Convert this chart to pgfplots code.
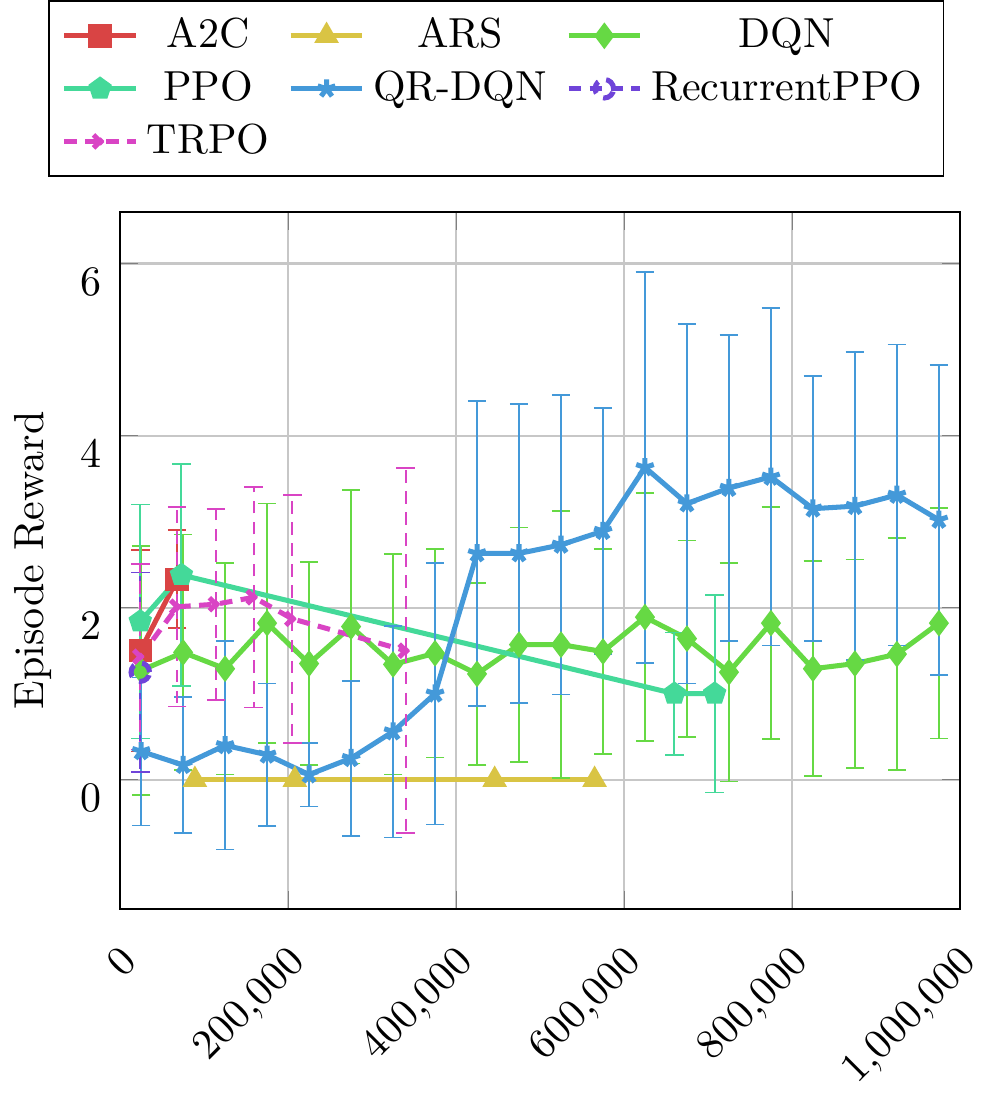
\documentclass[border=0pt]{standalone}
\usepackage{pgfplots}
\pgfplotsset{compat=1.18}
\definecolor{cA2C}{RGB}{217,68,68}
\definecolor{cARS}{RGB}{217,196,68}
\definecolor{cDQN}{RGB}{102,217,68}
\definecolor{cPPO}{RGB}{68,217,153}
\definecolor{cQR}{RGB}{68,153,217}
\definecolor{cRPPO}{RGB}{111,68,217}
\definecolor{cTRPO}{RGB}{217,68,196}
\begin{document}
\begin{tikzpicture}
\begin{axis}[
  scale only axis, width=200pt, height=166pt,
  xmin=0, xmax=1000000, ymin=-1.5, ymax=6.6,
  xtick={0,200000,400000,600000,800000,1000000},
  ytick={0,2,4,6},
  scaled x ticks=false,
  x tick label style={/pgf/number format/fixed, /pgf/number format/1000 sep={\mathord{,}},
    xshift=-0.3pt, yshift=-3.6pt, rotate=45, anchor=north east},
  yticklabel style={yshift=-4.3pt, xshift=-1pt},
  ylabel={Episode Reward},
  grid=major, grid style={black!22, line width=0.5pt},
  legend columns=3, legend cell align=center,
  legend style={at={(0.448,1.05)}, anchor=south, draw=black,
    /tikz/every even column/.append style={column sep=2.5pt}},
  every axis plot/.append style={line width=1.2pt, mark size=2.2pt},
]
\addplot[color=cA2C, mark=square*, error bars/.cd, y dir=both, y explicit, error bar style={line width=0.5pt}]
coordinates {(24000,1.50) +- (0,1.17) (68000,2.33) +- (0,0.57)};
\addlegendentry{A2C}
\addplot[color=cARS, mark=triangle*]
coordinates {(89000,0) (208000,0) (446000,0) (565000,0)};
\addlegendentry{ARS}
\addplot[color=cDQN, mark=diamond*, error bars/.cd, y dir=both, y explicit, error bar style={line width=0.5pt}]
coordinates {
(25000,1.27) +- (0,1.45)
(75000,1.48) +- (0,1.37)
(125000,1.29) +- (0,1.23)
(175000,1.82) +- (0,1.39)
(225000,1.35) +- (0,1.18)
(275000,1.78) +- (0,1.59)
(325000,1.34) +- (0,1.28)
(375000,1.47) +- (0,1.21)
(425000,1.23) +- (0,1.06)
(475000,1.57) +- (0,1.36)
(525000,1.57) +- (0,1.55)
(575000,1.49) +- (0,1.19)
(625000,1.89) +- (0,1.44)
(675000,1.64) +- (0,1.14)
(725000,1.25) +- (0,1.27)
(775000,1.82) +- (0,1.35)
(825000,1.29) +- (0,1.25)
(875000,1.35) +- (0,1.21)
(925000,1.46) +- (0,1.35)
(975000,1.82) +- (0,1.34)
};
\addlegendentry{DQN}
\addplot[color=cPPO, mark=pentagon*, error bars/.cd, y dir=both, y explicit, error bar style={line width=0.5pt}]
coordinates {(24000,1.84) +- (0,1.36) (73000,2.38) +- (0,1.29) (660000,1.00) +- (0,0.71) (708000,1.00) +- (0,1.15)};
\addlegendentry{PPO}
\addplot[color=cQR, mark=star, error bars/.cd, y dir=both, y explicit, error bar style={line width=0.5pt}]
coordinates {
(25000,0.33) +- (0,0.86)
(75000,0.17) +- (0,0.79)
(125000,0.40) +- (0,1.21)
(175000,0.29) +- (0,0.83)
(225000,0.06) +- (0,0.37)
(275000,0.25) +- (0,0.90)
(325000,0.56) +- (0,1.23)
(375000,1.00) +- (0,1.52)
(425000,2.63) +- (0,1.77)
(475000,2.63) +- (0,1.74)
(525000,2.73) +- (0,1.74)
(575000,2.89) +- (0,1.43)
(625000,3.63) +- (0,2.27)
(675000,3.21) +- (0,2.09)
(725000,3.39) +- (0,1.78)
(775000,3.52) +- (0,1.96)
(825000,3.15) +- (0,1.54)
(875000,3.18) +- (0,1.79)
(925000,3.31) +- (0,1.75)
(975000,3.02) +- (0,1.80)
};
\addlegendentry{QR-DQN}
\addplot[color=cRPPO, densely dashed, mark=o, error bars/.cd, y dir=both, y explicit, error bar style={line width=0.5pt}]
coordinates {(24000,1.25) +- (0,1.16)};
\addlegendentry{RecurrentPPO}
\addplot[color=cTRPO, densely dashed, mark=x, error bars/.cd, y dir=both, y explicit, error bar style={line width=0.5pt}]
coordinates {(24000,1.43) +- (0,1.08) (68000,2.01) +- (0,1.16) (114000,2.04) +- (0,1.11) (159000,2.12) +- (0,1.28) (205000,1.87) +- (0,1.44) (340000,1.50) +- (0,2.12)};
\addlegendentry{TRPO}
\end{axis}
\end{tikzpicture}
\end{document}
